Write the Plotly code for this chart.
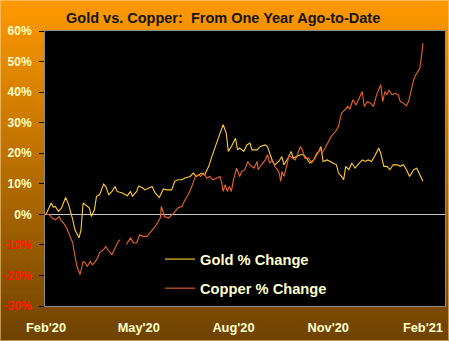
import pandas as pd
import plotly.graph_objects as go

# ---------------- data ----------------
start_date = "2020-02-20"

gold_days = [0, 5, 7, 9, 12, 15, 19, 22, 26, 28,
             32, 34, 36, 39, 42, 44, 47, 49, 52, 56,
             58, 61, 64, 67, 69, 74, 79, 82, 84, 88,
             90, 94, 96, 103, 106, 110, 114, 117, 122, 125,
             128, 132, 135, 140, 143, 146, 151, 154, 158, 161,
             166, 169, 172, 175, 177, 180, 184, 186, 188, 192,
             195, 198, 200, 205, 208, 213, 215, 218, 220, 222,
             226, 229, 231, 235, 238, 240, 243, 247, 250, 253,
             256, 260, 263, 265, 267, 269, 273, 276, 279, 282,
             284, 287, 289, 291, 294, 297, 300, 303, 307, 310,
             313, 316, 319, 323, 325, 328, 331, 334, 337, 341,
             344, 347, 350, 353, 357, 360, 363, 366]
gold_pct = [0.0, 3.7, 2.4, 2.6, 1.0, 2.0, 5.5, 3.1, -1.8, -5.0,
            -7.7, -5.0, 3.7, 3.0, 2.1, -0.7, 1.5, 5.9, 6.4, 9.9,
            9.1, 6.4, 7.5, 9.1, 7.5, 7.0, 6.1, 7.5, 5.9, 7.5,
            9.3, 8.6, 8.0, 9.1, 7.0, 5.5, 8.3, 8.0, 8.0, 10.8,
            11.3, 11.3, 11.9, 12.4, 13.5, 12.4, 13.5, 12.9, 15.7, 18.9,
            23.3, 26.6, 29.3, 26.6, 20.6, 22.2, 24.9, 21.1, 21.7, 20.6,
            22.7, 23.3, 21.1, 21.1, 22.2, 22.7, 22.2, 19.5, 17.3, 16.2,
            17.3, 18.9, 16.2, 18.4, 20.6, 18.4, 18.9, 19.5, 19.5, 18.4,
            16.8, 17.8, 20.0, 20.6, 22.2, 17.3, 17.8, 17.3, 16.8, 16.2,
            13.5, 12.4, 11.3, 15.7, 14.6, 16.8, 15.1, 16.2, 17.8, 17.3,
            17.8, 17.3, 18.9, 21.7, 20.0, 15.7, 15.7, 14.6, 16.2, 16.2,
            15.7, 16.2, 14.6, 12.4, 14.6, 15.1, 12.9, 10.8]

copper_days = [0, 3, 6, 9, 13, 14, 17, 20, 22, 26,
               27, 30, 33, 36, 38, 40, 43, 45, 48, 50,
               52, 56, 58, 60, 64, 67, 70, 72, 75, 78,
               82, 85, 88, 91, 94, 98, 103, 107, 111, 112,
               115, 119, 124, 128, 132, 135, 138, 141, 145, 148,
               150, 153, 156, 159, 162, 166, 169, 171, 172, 174,
               176, 178, 180, 182, 185, 188, 190, 193, 196, 198,
               202, 205, 206, 209, 213, 215, 217, 220, 222, 226,
               228, 229, 231, 234, 236, 239, 242, 244, 247, 249,
               251, 255, 258, 261, 264, 266, 268, 271, 274, 277,
               281, 284, 285, 287, 290, 293, 295, 298, 301, 304,
               307, 309, 312, 315, 318, 321, 325, 327, 329, 331,
               333, 336, 339, 342, 344, 347, 350, 352, 354, 357,
               359, 361, 363, 365, 366]
copper_pct = [0.0, 0.0, -1.2, -1.8, -0.7, -1.8, -2.9, -4.5, -6.1, -9.4,
              -11.6, -17.0, -19.7, -15.4, -15.9, -17.0, -15.4, -16.5, -15.4, -14.3,
              -12.6, -11.5, -10.5, -11.6, -13.2, -11.0, -8.9, -8.3, None, -9.9,
              -7.7, -9.4, -9.4, -6.7, -7.2, -7.2, -5.0, -3.5, -1.2, 2.6,
              -0.7, -1.2, 0.4, 2.1, 2.6, 4.8, 6.4, 8.6, 12.4, 12.9,
              12.4, 13.5, 11.9, 12.4, 11.3, 11.9, 12.4, 9.7, 7.5, 9.7,
              7.5, 9.1, 7.5, 11.3, 15.1, 12.4, 14.0, 14.6, 17.3, 16.2,
              15.1, 17.3, 14.6, 16.2, 17.8, 19.5, 16.8, 17.8, 15.7, 14.0,
              10.8, 14.0, 12.4, 16.2, 19.5, 18.4, 17.8, 19.5, 22.2, 21.1,
              18.4, 18.4, 16.8, 18.4, 20.0, 21.7, 20.0, 21.7, 23.8, 25.5,
              27.1, 28.7, 30.4, 33.1, 34.2, 35.3, 34.4, 37.5, 35.8, 38.0,
              40.2, 35.3, 36.9, 36.4, 35.3, 39.1, 42.4, 36.9, 40.2, 39.1,
              40.7, 39.1, 39.6, 39.1, 36.9, 36.4, 35.5, 36.9, 40.2, 44.0,
              45.6, 46.7, 47.8, 52.7, 56.0]

x_tick_dates = ["2020-02-20", "2020-05-20", "2020-08-20", "2020-11-20", "2021-02-20"]
x_tick_labels = ["Feb'20", "May'20", "Aug'20", "Nov'20", "Feb'21"]
y_tick_vals = [-30, -20, -10, 0, 10, 20, 30, 40, 50, 60]
series_names = ["Gold % Change", "Copper % Change"]
title_text = "Gold vs. Copper:\u00a0 From One Year Ago-to-Date"

# ---------------- build ----------------
base = pd.Timestamp(start_date)
gold_x = base + pd.to_timedelta(gold_days, unit="D")
copper_x = base + pd.to_timedelta(copper_days, unit="D")

W, H = 449, 341
ML, MR, MT, MB = 45, 4, 31, 35
PW, PH = W - ML - MR, H - MT - MB

GOLD_C = "#FFCC33"
COPPER_C = "#E9642A"
CREAM = "#FFFFCC"
FONT = "Liberation Sans, Arial, sans-serif"

fig = go.Figure()
fig.add_trace(go.Scatter(x=gold_x, y=gold_pct, mode="lines", name=series_names[0],
                         line=dict(color=GOLD_C, width=1.1), legendgroup="g",
                         connectgaps=False))
fig.add_trace(go.Scatter(x=copper_x, y=copper_pct, mode="lines", name=series_names[1],
                         line=dict(color=COPPER_C, width=1.1), legendgroup="c",
                         connectgaps=False))

# gradient background built from horizontal bands (paper coordinates)
def px_x(px):
    return (px - ML) / PW

def px_y(py):
    return (H - MB - py) / PH

top_rgb = (255, 153, 0)
bot_rgb = (110, 66, 2)
n_bands = 114
shapes = []
for i in range(n_bands):
    f = (i + 0.5) / n_bands
    c = tuple(int(round(top_rgb[k] + (bot_rgb[k] - top_rgb[k]) * f)) for k in range(3))
    y0 = px_y(i * H / n_bands)
    y1 = px_y(min(H, (i + 1) * H / n_bands + 0.6))
    shapes.append(dict(type="rect", xref="paper", yref="paper", layer="below",
                       x0=px_x(0), x1=px_x(W), y0=y1, y1=y0,
                       fillcolor="rgb(%d,%d,%d)" % c, line=dict(width=0)))
# light outer frame
shapes.append(dict(type="rect", xref="paper", yref="paper", layer="below",
                   x0=px_x(0.5), x1=px_x(W - 0.5), y0=px_y(H - 0.5), y1=px_y(0.5),
                   fillcolor="rgba(0,0,0,0)", line=dict(color="rgba(255,215,150,0.55)", width=1)))
# black plotting area
shapes.append(dict(type="rect", xref="paper", yref="paper", layer="below",
                   x0=0, x1=1, y0=0, y1=1, fillcolor="black", line=dict(width=0)))

y_tick_text = []
for v in y_tick_vals:
    lab = "%d%%" % v
    if v < 0:
        lab = "<span style='color:#FF1A00'>%s</span>" % lab
    y_tick_text.append(lab)

fig.update_layout(
    width=W, height=H,
    margin=dict(l=ML, r=MR, t=MT, b=MB, pad=0),
    paper_bgcolor="#B87000",
    plot_bgcolor="black",
    shapes=shapes,
    font=dict(family=FONT, color=CREAM, size=12),
    title=dict(text=title_text, x=0.497, xref="container", xanchor="center",
               y=1 - 18 / H, yref="container", yanchor="middle",
               font=dict(family=FONT, size=14.5, color="#141414", weight="bold")),
    showlegend=True,
    legend=dict(x=px_x(160), xanchor="left", y=px_y(243), yanchor="top",
                bgcolor="rgba(0,0,0,0)", borderwidth=0,
                font=dict(family=FONT, size=14.7, color=CREAM, weight="bold"),
                traceorder="grouped", tracegroupgap=7, itemwidth=30),
    xaxis=dict(type="date", range=["2020-02-19", "2021-03-13 10:00"],
               tickmode="array", tickvals=x_tick_dates, ticktext=x_tick_labels,
               ticks="", showgrid=False, zeroline=False,
               showline=True, linecolor="#8a8a8a", linewidth=1, mirror=True,
               tickfont=dict(family=FONT, size=12.8, color=CREAM, weight="bold"),
               ticklabelstandoff=10),
    yaxis=dict(range=[-30, 60], tickmode="array", tickvals=y_tick_vals, ticktext=y_tick_text,
               ticks="outside", ticklen=5, tickcolor="black", tickwidth=1,
               showgrid=False, zeroline=True, zerolinecolor="#C8C8C8", zerolinewidth=1,
               showline=True, linecolor="#8a8a8a", linewidth=1, mirror=True,
               tickfont=dict(family=FONT, size=12, color=CREAM, weight="bold"),
               ticklabelstandoff=5),
)

fig.write_html("out.html")
